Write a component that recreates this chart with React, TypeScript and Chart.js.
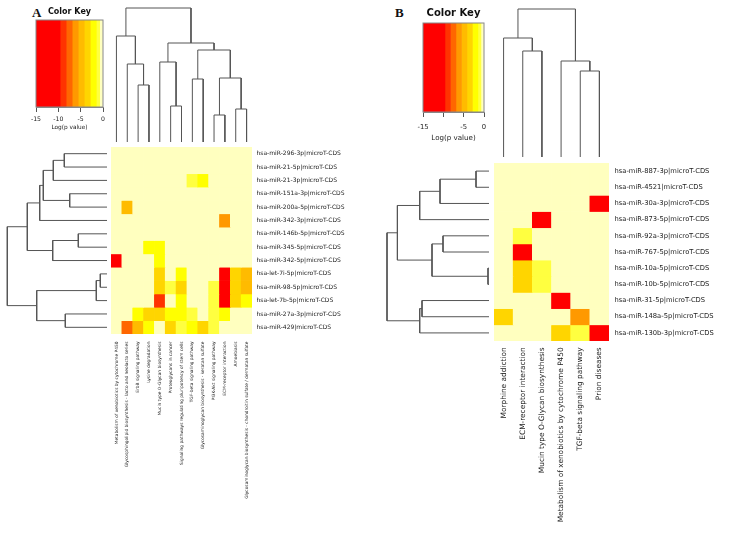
import React, { useEffect, useRef } from 'react';
import { Chart, registerables } from 'chart.js';
Chart.register(...registerables);

const FONT = 'DejaVu Sans';
const LINE = '#555555';
const TEXT = '#222222';

// ---------- colour key ----------
const keyBreaks = [-15, -9.6, -8.25, -6.9, -5.55, -4.2, -2.85, -1.5, -0.75, 0];
const keyColors = ['#ff0000', '#ff3300', '#ff6600', '#ff9900', '#ffbb00', '#ffd500', '#ffff00', '#ffff40', '#ffffbf'];
const keyTicksA = [-15, -10, -5, 0];
const keyTickLabelsA = ['-15', '-10', '-5', '0'];
const keyTicksB = [-15, -10, -5, 0];
const keyTickLabelsB = ['-15', '', '-5', '0'];

// ---------- panel A ----------
const rowLabelsA = [
  'hsa-miR-296-3p|microT-CDS',
  'hsa-miR-21-5p|microT-CDS',
  'hsa-miR-21-3p|microT-CDS',
  'hsa-miR-151a-3p|microT-CDS',
  'hsa-miR-200a-5p|microT-CDS',
  'hsa-miR-342-3p|microT-CDS',
  'hsa-miR-146b-5p|microT-CDS',
  'hsa-miR-345-5p|microT-CDS',
  'hsa-miR-342-5p|microT-CDS',
  'hsa-let-7i-5p|microT-CDS',
  'hsa-miR-98-5p|microT-CDS',
  'hsa-let-7b-5p|microT-CDS',
  'hsa-miR-27a-3p|microT-CDS',
  'hsa-miR-429|microT-CDS',
];
const colLabelsA = [
  'Metabolism of xenobiotics by cytochrome P450',
  'Glycosphingolipid biosynthesis - lacto and neolacto series',
  'ErbB signaling pathway',
  'Lysine degradation',
  'Mucin type O-Glycan biosynthesis',
  'Proteoglycans in cancer',
  'Signaling pathways regulating pluripotency of stem cells',
  'TGF-beta signaling pathway',
  'Glycosaminoglycan biosynthesis - keratan sulfate',
  'PI3K-Akt signaling pathway',
  'ECM-receptor interaction',
  'Amoebiasis',
  'Glycosaminoglycan biosynthesis - chondroitin sulfate / dermatan sulfate',
];
// log(p value) per row (miRNA) and column (pathway)
const valuesA = [
  [0, 0, 0, 0, 0, 0, 0, 0, 0, 0, 0, 0, 0],
  [0, 0, 0, 0, 0, 0, 0, 0, 0, 0, 0, 0, 0],
  [0, 0, 0, 0, 0, 0, 0, -1.1, -2.2, 0, 0, 0, 0],
  [0, 0, 0, 0, 0, 0, 0, 0, 0, 0, 0, 0, 0],
  [0, -4.8, 0, 0, 0, 0, 0, 0, 0, 0, 0, 0, 0],
  [0, 0, 0, 0, 0, 0, 0, 0, 0, 0, -6.2, 0, 0],
  [0, 0, 0, 0, 0, 0, 0, 0, 0, 0, 0, 0, 0],
  [0, 0, 0, -2.2, -2.2, 0, 0, 0, 0, 0, 0, 0, 0],
  [-12, 0, 0, 0, -2.2, 0, 0, 0, 0, 0, 0, 0, 0],
  [0, 0, 0, 0, -3.5, 0, -2.2, 0, 0, 0, -12, -3.5, -4.8],
  [0, 0, 0, 0, -3.5, -1.1, -3.5, 0, 0, -1.1, -12, -3.5, -4.8],
  [0, 0, 0, 0, -8.5, 0, -2.2, 0, 0, -1.1, -12, -3.5, -2.2],
  [0, 0, -2.2, -3.5, -3.5, -2.2, -2.2, -1.1, 0, -1.1, -2.2, 0, 0],
  [0, -7.5, -4.8, -2.2, 0, -3.5, -1.1, -2.2, -3.5, -1.1, 0, 0, 0],
];
// dendrogram merges: [left node, right node, height]; leaves 0..n-1, merge k -> n+k
const rowMergesA = [
  [0, 1, 42.7], [14, 2, 53.7], [3, 4, 37.3], [15, 16, 63.7], [17, 5, 67.3],
  [6, 7, 28.7], [19, 8, 54.3], [18, 20, 79.7], [9, 10, 6.7], [22, 11, 10.7],
  [12, 13, 41.7], [23, 24, 70.3], [21, 25, 99.7],
];
const colMergesA = [
  [2, 3, 57], [1, 13, 78], [0, 14, 106], [5, 6, 36], [4, 16, 80], [7, 8, 63],
  [9, 10, 27], [11, 12, 33], [19, 20, 64], [18, 21, 92], [17, 22, 99], [15, 23, 134],
];

// ---------- panel B ----------
const rowLabelsB = [
  'hsa-miR-887-3p|microT-CDS',
  'hsa-miR-4521|microT-CDS',
  'hsa-miR-30a-3p|microT-CDS',
  'hsa-miR-873-5p|microT-CDS',
  'hsa-miR-92a-3p|microT-CDS',
  'hsa-miR-767-5p|microT-CDS',
  'hsa-miR-10a-5p|microT-CDS',
  'hsa-miR-10b-5p|microT-CDS',
  'hsa-miR-31-5p|microT-CDS',
  'hsa-miR-148a-5p|microT-CDS',
  'hsa-miR-130b-3p|microT-CDS',
];
const colLabelsB = [
  'Morphine addiction',
  'ECM-receptor interaction',
  'Mucin type O-Glycan biosynthesis',
  'Metabolism of xenobiotics by cytochrome P450',
  'TGF-beta signaling pathway',
  'Prion diseases',
];
const valuesB = [
  [0, 0, 0, 0, 0, 0],
  [0, 0, 0, 0, 0, 0],
  [0, 0, 0, 0, 0, -12],
  [0, 0, -12, 0, 0, 0],
  [0, -1.1, 0, 0, 0, 0],
  [0, -12, 0, 0, 0, 0],
  [0, -3.5, -1.1, 0, 0, 0],
  [0, -3.5, -1.1, 0, 0, 0],
  [0, 0, 0, -12, 0, 0],
  [-3.5, 0, 0, 0, -6.2, 0],
  [0, 0, 0, -3.5, -1.1, -12],
];
const rowMergesB = [
  [0, 1, 13], [11, 2, 49], [12, 3, 69.3], [4, 5, 46], [6, 7, 1], [14, 15, 57],
  [13, 16, 91.6], [8, 9, 67], [18, 10, 69.3], [17, 19, 102],
];
const colMergesB = [
  [1, 2, 106], [0, 6, 119], [4, 5, 86], [3, 8, 96], [7, 9, 148],
];

// ---------- helpers ----------
function colorFor(v: number): string {
  for (let i = 0; i < keyColors.length; i++) {
    if (v >= keyBreaks[i] && v <= keyBreaks[i + 1]) return keyColors[i];
  }
  return v < keyBreaks[0] ? keyColors[0] : keyColors[keyColors.length - 1];
}

function dendroSegments(n: number, merges: number[][]) {
  const pos: number[] = [];
  const hgt: number[] = [];
  for (let i = 0; i < n; i++) { pos[i] = i + 0.5; hgt[i] = 0; }
  const segs: number[][][] = [];
  merges.forEach(([a, b, h], k) => {
    segs.push([[pos[a], hgt[a]], [pos[a], h], [pos[b], h], [pos[b], hgt[b]]]);
    pos[n + k] = (pos[a] + pos[b]) / 2;
    hgt[n + k] = h;
  });
  return segs;
}

function zeroPad(s: any) {
  s.paddingLeft = 0; s.paddingRight = 0; s.paddingTop = 0; s.paddingBottom = 0;
}

const basePlugins = { legend: { display: false }, tooltip: { enabled: false } };

function dendroConfig(n: number, merges: number[][], orient: 'col' | 'row', hMax: number) {
  const segs = dendroSegments(n, merges);
  const datasets = segs.map((seg) => ({
    data: seg.map(([p, h]) => (orient === 'col' ? { x: p, y: h } : { x: h, y: p })),
    borderColor: LINE,
    borderWidth: 1,
    pointRadius: 0,
    tension: 0,
    fill: false,
    clip: false as any,
  }));
  const posAxis = { type: 'linear', display: false, min: 0, max: n, reverse: orient === 'row' };
  const hAxis = { type: 'linear', display: false, min: 0, max: hMax, reverse: orient === 'row' };
  return {
    type: 'line',
    data: { datasets },
    options: {
      animation: false,
      responsive: false,
      maintainAspectRatio: false,
      layout: { padding: 0 },
      plugins: basePlugins,
      scales: orient === 'col' ? { x: posAxis, y: hAxis } : { x: hAxis, y: posAxis },
    },
  };
}

function heatmapConfig(rows: string[], cols: string[], values: number[][], o: any) {
  return {
    type: 'bar',
    data: {
      labels: cols,
      datasets: values.map((row, r) => ({
        data: row.map(() => [r, r + 1]),
        backgroundColor: row.map(colorFor),
        borderWidth: 0,
        grouped: false,
        barPercentage: 1,
        categoryPercentage: 1,
      })),
    },
    options: {
      animation: false,
      responsive: false,
      maintainAspectRatio: false,
      layout: { padding: 0 },
      plugins: basePlugins,
      scales: {
        x: {
          type: 'category',
          grid: { display: false, drawTicks: false },
          border: { display: false },
          ticks: {
            autoSkip: false, minRotation: 90, maxRotation: 90, padding: o.colPad,
            font: { family: FONT, size: o.colFont }, color: TEXT,
          },
          afterFit: (s: any) => { s.height = o.xAxisH; zeroPad(s); },
        },
        y: {
          type: 'linear', position: 'right', min: 0, max: rows.length, reverse: true,
          grid: { display: false, drawTicks: false },
          border: { display: false },
          afterBuildTicks: (s: any) => { s.ticks = rows.map((_, i) => ({ value: i + 0.5 })); },
          ticks: {
            autoSkip: false, padding: o.rowPad,
            callback: (_v: any, i: number) => rows[i],
            font: { family: FONT, size: o.rowFont }, color: TEXT,
          },
          afterFit: (s: any) => { s.width = o.yAxisW; zeroPad(s); },
        },
      },
    },
  };
}

const keyBox = {
  id: 'keyBox',
  afterDatasetsDraw(chart: any) {
    const { ctx, chartArea: a } = chart;
    ctx.save();
    ctx.strokeStyle = '#888888';
    ctx.lineWidth = 1;
    ctx.strokeRect(a.left, a.top, a.right - a.left, a.bottom - a.top);
    ctx.restore();
  },
};

function keyConfig(ticks: number[], tickLabels: string[], o: any) {
  return {
    type: 'bar',
    data: {
      labels: ['key'],
      datasets: keyColors.map((c, i) => ({
        data: [[keyBreaks[i], keyBreaks[i + 1]]],
        backgroundColor: c,
        borderWidth: 0,
        grouped: false,
        barPercentage: 1,
        categoryPercentage: 1,
      })),
    },
    plugins: [keyBox],
    options: {
      indexAxis: 'y',
      animation: false,
      responsive: false,
      maintainAspectRatio: false,
      layout: { padding: { left: o.padL, right: o.padR, top: 0, bottom: 0 } },
      plugins: {
        ...basePlugins,
        title: {
          display: true, text: 'Color Key', color: '#111',
          font: { family: FONT, size: o.titleFont, weight: 'bold', lineHeight: 1 },
          padding: { top: o.titleTop, bottom: o.titleBottom },
        },
      },
      scales: {
        x: {
          type: 'linear', min: -15, max: 0,
          afterBuildTicks: (s: any) => { s.ticks = ticks.map((v) => ({ value: v })); },
          ticks: {
            autoSkip: false, padding: o.tickPad, maxRotation: 0,
            callback: (_v: any, i: number) => tickLabels[i],
            font: { family: FONT, size: o.tickFont, lineHeight: 1.2 }, color: TEXT,
          },
          grid: { display: true, drawOnChartArea: false, drawTicks: true, tickLength: 5, color: LINE },
          border: { display: true, color: '#888888' },
          title: {
            display: true, text: 'Log(p value)', color: TEXT,
            font: { family: FONT, size: o.axisTitleFont, lineHeight: 1.2 },
            padding: { top: 0, bottom: o.axisTitleBottom },
          },
          afterFit: (s: any) => { s.height = o.xAxisH; zeroPad(s); },
        },
        y: { display: false },
      },
    },
  };
}

function ChartBox({ left, top, width, height, config }: any) {
  const ref = useRef<HTMLCanvasElement | null>(null);
  useEffect(() => {
    if (!ref.current) return;
    const chart = new Chart(ref.current, config);
    return () => chart.destroy();
  }, []);
  return (
    <canvas
      ref={ref}
      width={width}
      height={height}
      style={{ position: 'absolute', left, top, width, height }}
    />
  );
}

const letterStyle: any = {
  position: 'absolute',
  fontFamily: 'Liberation Serif',
  fontWeight: 'bold',
  fontSize: '13px',
  lineHeight: '13px',
  color: '#111',
};

export default function App() {
  return (
    <div style={{ position: 'absolute', left: 0, top: 0, width: 731, height: 542, background: '#fff', overflow: 'hidden' }}>
      <div style={{ ...letterStyle, left: 32, top: 6 }}>A</div>
      <div style={{ ...letterStyle, left: 395, top: 6 }}>B</div>

      <ChartBox left={28} top={0} width={83} height={136}
        config={keyConfig(keyTicksA, keyTickLabelsA, {
          padL: 8, padR: 8, titleFont: 8, titleTop: 8, titleBottom: 4,
          tickFont: 6.2, tickPad: 3.3, axisTitleFont: 5.8, axisTitleBottom: 4.8, xAxisH: 29,
        })} />
      <ChartBox left={111} top={0} width={141} height={142} config={dendroConfig(13, colMergesA, 'col', 142)} />
      <ChartBox left={0} top={147} width={107} height={187} config={dendroConfig(14, rowMergesA, 'row', 107)} />
      <ChartBox left={111} top={147} width={250} height={381}
        config={heatmapConfig(rowLabelsA, colLabelsA, valuesA, {
          colPad: 7.5, colFont: 4.35, rowPad: 4.5, rowFont: 6.0, xAxisH: 194, yAxisW: 109,
        })} />

      <ChartBox left={415} top={0} width={78} height={145}
        config={keyConfig(keyTicksB, keyTickLabelsB, {
          padL: 8, padR: 9, titleFont: 10, titleTop: 8, titleBottom: 5,
          tickFont: 6.8, tickPad: 6.6, axisTitleFont: 7.1, axisTitleBottom: 3, xAxisH: 33,
        })} />
      <ChartBox left={494} top={0} width={115} height={157} config={dendroConfig(6, colMergesB, 'col', 157)} />
      <ChartBox left={380} top={163} width={109} height={178} config={dendroConfig(11, rowMergesB, 'row', 109)} />
      <ChartBox left={494} top={163} width={237} height={379}
        config={heatmapConfig(rowLabelsB, colLabelsB, valuesB, {
          colPad: 6.3, colFont: 7.4, rowPad: 5.5, rowFont: 6.75, xAxisH: 201, yAxisW: 122,
        })} />
    </div>
  );
}
